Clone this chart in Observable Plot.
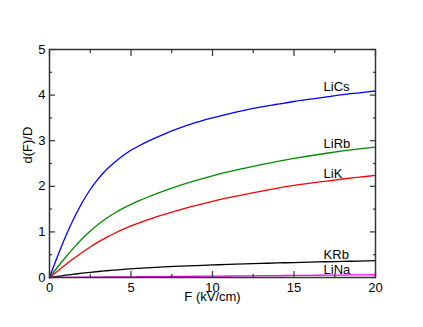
<!DOCTYPE html>
<html>
<head>
<meta charset="utf-8">
<script src="https://cdn.jsdelivr.net/npm/d3@7"></script>
<script src="https://cdn.jsdelivr.net/npm/@observablehq/plot@0.6"></script>
<style>
  html, body { margin: 0; padding: 0; background: #fff; }
  #chart svg { display: block; }
</style>
</head>
<body>
<div id="chart"></div>
<script>
// Field strength F (kV/cm)
const F = [0, 0.5, 1, 1.5, 2, 2.5, 3, 3.5, 4, 4.5, 5, 5.5, 6, 7, 8, 9, 10, 11, 12, 13, 14, 15, 16, 17, 18, 19, 20];
// d(F)/D per molecule
const LiCs = [0, 0.47, 0.91, 1.3, 1.64, 1.93, 2.17, 2.37, 2.53, 2.67, 2.79, 2.89, 2.98, 3.14, 3.28, 3.4, 3.5, 3.59, 3.67, 3.74, 3.8, 3.86, 3.91, 3.96, 4.01, 4.05, 4.09];
const LiRb = [0, 0.23, 0.45, 0.655, 0.85, 1.02, 1.17, 1.3, 1.415, 1.515, 1.605, 1.685, 1.76, 1.895, 2.02, 2.13, 2.23, 2.32, 2.4, 2.475, 2.545, 2.61, 2.67, 2.725, 2.775, 2.82, 2.86];
const LiK  = [0, 0.145, 0.285, 0.42, 0.55, 0.67, 0.78, 0.88, 0.97, 1.055, 1.13, 1.2, 1.265, 1.38, 1.485, 1.58, 1.67, 1.75, 1.825, 1.895, 1.96, 2.02, 2.07, 2.115, 2.16, 2.2, 2.24];
const KRb  = [0, 0.025, 0.05, 0.072, 0.094, 0.114, 0.132, 0.148, 0.163, 0.177, 0.19, 0.202, 0.213, 0.232, 0.248, 0.262, 0.275, 0.287, 0.298, 0.309, 0.319, 0.328, 0.337, 0.345, 0.353, 0.361, 0.368];
const LiNa = [0, 0.0015, 0.003, 0.0045, 0.006, 0.0075, 0.009, 0.0105, 0.012, 0.0135, 0.015, 0.0165, 0.018, 0.021, 0.024, 0.027, 0.03, 0.033, 0.036, 0.039, 0.042, 0.045, 0.048, 0.051, 0.054, 0.057, 0.06];

const seriesNames = ["LiCs", "LiRb", "LiK", "KRb", "LiNa"];
const seriesValues = [LiCs, LiRb, LiK, KRb, LiNa];
const seriesColors = ["#0000ff", "#008b00", "#ff0000", "#000000", "#ff00ff"];

const xMajor = [0, 5, 10, 15, 20];
const xMinor = [2.5, 7.5, 12.5, 17.5];
const yMajor = [0, 1, 2, 3, 4, 5];
const yMinor = [0.5, 1.5, 2.5, 3.5, 4.5];

const xTitle = "F (kV/cm)";
const yTitle = "d(F)/D";
const labelF = 17;
const labelLift = [6, 5, 3, 3, 1.5]; // px above the curve

const rows = [];
seriesNames.forEach((name, k) => {
  F.forEach((f, i) => rows.push({name, F: f, d: seriesValues[k][i]}));
});
const labelMarks = seriesNames.map((name, k) =>
  Plot.text([{name, F: labelF, d: seriesValues[k][F.indexOf(labelF)]}], {
    x: "F", y: "d", text: "name", textAnchor: "start", lineAnchor: "bottom",
    dx: -3, dy: -labelLift[k], fill: "#000", fontSize: 13
  })
);

const axisColor = "#333";
const noText = () => "";

const chart = Plot.plot({
  width: 423,
  height: 327,
  marginLeft: 49,
  marginRight: 48,
  marginTop: 49,
  marginBottom: 50,
  style: {fontFamily: "'Liberation Sans', Arial, Helvetica, sans-serif", fontSize: "13px", color: "#000", background: "#fff"},
  x: {domain: [0, 20]},
  y: {domain: [0, 5]},
  color: {domain: seriesNames, range: seriesColors},
  marks: [
    Plot.line(rows, {x: "F", y: "d", z: "name", stroke: "name", strokeWidth: 1.3, curve: "monotone-x"}),
    ...labelMarks,
    Plot.axisX(xMajor, {anchor: "bottom", tickSize: -6, tickPadding: 11, stroke: axisColor, strokeWidth: 1.2, label: null, fontSize: 13}),
    Plot.axisX(xMajor, {anchor: "top", tickSize: -6, tickFormat: noText, stroke: axisColor, strokeWidth: 1.2, label: null}),
    Plot.axisX(xMinor, {anchor: "bottom", tickSize: -3, tickFormat: noText, stroke: axisColor, strokeWidth: 1.2, label: null}),
    Plot.axisX(xMinor, {anchor: "top", tickSize: -3, tickFormat: noText, stroke: axisColor, strokeWidth: 1.2, label: null}),
    Plot.axisY(yMajor, {anchor: "left", tickSize: -6, tickPadding: 10, stroke: axisColor, strokeWidth: 1.2, label: null, fontSize: 13}),
    Plot.axisY(yMajor, {anchor: "right", tickSize: -6, tickFormat: noText, stroke: axisColor, strokeWidth: 1.2, label: null}),
    Plot.axisY(yMinor, {anchor: "left", tickSize: -3, tickFormat: noText, stroke: axisColor, strokeWidth: 1.2, label: null}),
    Plot.axisY(yMinor, {anchor: "right", tickSize: -3, tickFormat: noText, stroke: axisColor, strokeWidth: 1.2, label: null}),
    Plot.frame({stroke: axisColor, strokeWidth: 1.5}),
    Plot.text([xTitle], {frameAnchor: "bottom", dy: 23, fontSize: 13, fill: "#000"}),
    Plot.text([yTitle], {frameAnchor: "left", rotate: -90, dx: -22, fontSize: 13, fill: "#000"})
  ]
});
document.getElementById("chart").appendChild(chart);
</script>
</body>
</html>
